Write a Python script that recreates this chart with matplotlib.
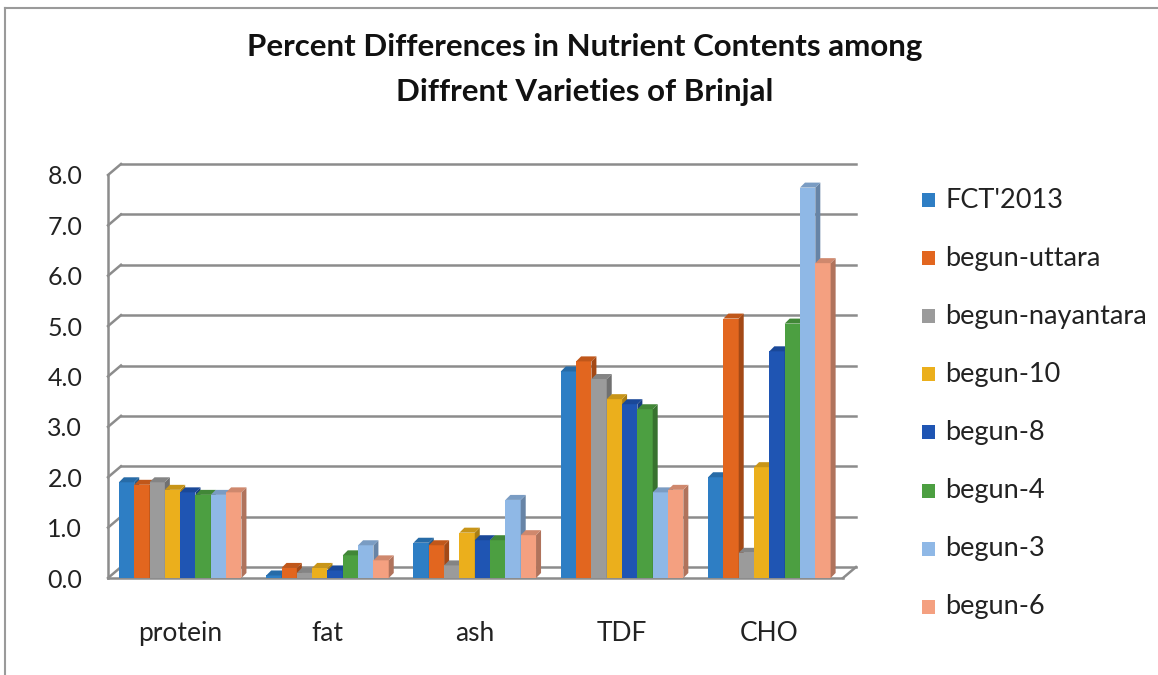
import matplotlib
matplotlib.use("Agg")
import matplotlib.pyplot as plt
import matplotlib.transforms as mtransforms
from matplotlib.patches import Polygon, Rectangle
from matplotlib.lines import Line2D
from matplotlib.colors import to_rgb
import numpy as np

categories = ["protein", "fat", "ash", "TDF", "CHO"]
series_names = ["FCT'2013", "begun-uttara", "begun-nayantara", "begun-10",
                "begun-8", "begun-4", "begun-3", "begun-6"]
fct2013 = [1.9, 0.05, 0.7, 4.1, 2.0]
begun_uttara = [1.85, 0.2, 0.65, 4.3, 5.15]
begun_nayantara = [1.9, 0.1, 0.25, 3.95, 0.5]
begun_10 = [1.75, 0.2, 0.9, 3.55, 2.2]
begun_8 = [1.7, 0.15, 0.75, 3.45, 4.5]
begun_4 = [1.65, 0.45, 0.75, 3.35, 5.05]
begun_3 = [1.65, 0.65, 1.55, 1.7, 7.75]
begun_6 = [1.7, 0.35, 0.85, 1.75, 6.25]
series_values = [fct2013, begun_uttara, begun_nayantara, begun_10,
                 begun_8, begun_4, begun_3, begun_6]
y_ticks = [0.0, 1.0, 2.0, 3.0, 4.0, 5.0, 6.0, 7.0, 8.0]
title_lines = ["Percent Differences in Nutrient Contents among",
               "Diffrent Varieties of Brinjal"]

colors = ["#2E7EC4", "#E2661F", "#9B9B9B", "#EBAF1C",
          "#1F55B3", "#4C9F41", "#8FB8E6", "#F4A080"]

W, H = 1158, 675
fig = plt.figure(figsize=(W / 100, H / 100), dpi=100)
fig.patch.set_facecolor("white")

def fx(px):
    return px / W

def fy(py):
    return 1 - py / H

# outer frame (top and left edges visible)
fig.add_artist(Line2D([fx(5), fx(5)], [0, fy(8)], transform=fig.transFigure,
                      color="#9a9a9a", lw=1.5))
fig.add_artist(Line2D([fx(5), 1], [fy(8), fy(8)], transform=fig.transFigure,
                      color="#9a9a9a", lw=1.5))

left_px, right_px, bot_px, top_px = 108, 843, 578, 175
ax = fig.add_axes([fx(left_px), fy(bot_px), (right_px - left_px) / W,
                   (bot_px - top_px) / H])
ax.set_xlim(-0.49, 4.5)
ax.set_ylim(0, 8)
ax.set_facecolor("none")
for s in ax.spines.values():
    s.set_visible(False)

grid_col = "#8c8c8c"
off_x, off_y = 13, 11  # pixel depth of the back wall
back = mtransforms.offset_copy(ax.transData, fig=fig, x=off_x, y=off_y, units="dots")
x0, x1 = ax.get_xlim()
for v in y_ticks:
    ax.plot([x0, x1], [v, v], transform=back, color=grid_col, lw=1.8,
            zorder=0, clip_on=False)
ax.plot([x0, x0], [0, 8], color=grid_col, lw=1.8, clip_on=False, zorder=0)
inv = ax.transData.inverted()
for v in y_ticks:
    p0 = ax.transData.transform((x0, v))
    b = inv.transform(p0 + np.array([off_x, off_y]))
    ax.plot([x0, b[0]], [v, b[1]], color=grid_col, lw=1.8, clip_on=False, zorder=0)
ax.plot([x0, x1], [0, 0], color=grid_col, lw=1.8, clip_on=False, zorder=0.5)
br = inv.transform(ax.transData.transform((x1, 0)) + np.array([off_x, off_y]))
ax.plot([x1, br[0]], [0, br[1]], color=grid_col, lw=1.8, clip_on=False, zorder=0.5)

# bars with pseudo-3D depth
n = len(series_values)
width = 0.104
x = np.arange(len(categories))
dxp, dyp = 5, 5
px_per_x = (right_px - left_px) / (x1 - x0)
px_per_y = (bot_px - top_px) / 8.0
ddx = dxp / px_per_x
ddy = dyp / px_per_y
z = 2
for ci in range(len(categories)):
    for si in range(n):
        h = series_values[si][ci]
        xc = x[ci] + (si - (n - 1) / 2) * width
        xl, xr = xc - width / 2, xc + width / 2
        c = np.array(to_rgb(colors[si]))
        ax.bar(xc, h, width=width, color=colors[si], zorder=z, linewidth=0)
        ax.add_patch(Polygon([(xr, 0), (xr + ddx, ddy), (xr + ddx, h + ddy), (xr, h)],
                             closed=True, facecolor=c * 0.72, edgecolor="none", zorder=z))
        ax.add_patch(Polygon([(xl, h), (xl + ddx, h + ddy), (xr + ddx, h + ddy), (xr, h)],
                             closed=True, facecolor=c * 0.85, edgecolor="none", zorder=z))
        z += 0.01

ax.set_yticks(y_ticks)
ax.set_yticklabels([f"{v:.1f}" for v in y_ticks], fontsize=18, family="Lato",
                   color="#222222")
ax.set_xticks(x)
ax.set_xticklabels(categories, fontsize=19, family="Lato", color="#222222")
ax.tick_params(axis="y", length=0, pad=18.5)
ax.tick_params(axis="x", length=0, pad=31)

fig.text(fx(585), fy(47), title_lines[0], ha="center", va="center", fontsize=22.5,
         fontweight="bold", family="Lato", color="#111111")
fig.text(fx(585), fy(92), title_lines[1], ha="center", va="center", fontsize=22.5,
         fontweight="bold", family="Lato", color="#111111")

# legend, laid out like the reference
for i, (name, c) in enumerate(zip(series_names, colors)):
    yc = 200 + 58.1 * i
    fig.add_artist(Rectangle((fx(922), fy(yc + 7)), 13 / W, 14 / H,
                             transform=fig.transFigure, facecolor=c,
                             edgecolor="none"))
    fig.text(fx(945), fy(yc), name, ha="left", va="center", fontsize=19.5,
             family="Lato", color="#222222")

fig.savefig("out.png", dpi=100, facecolor="white")
